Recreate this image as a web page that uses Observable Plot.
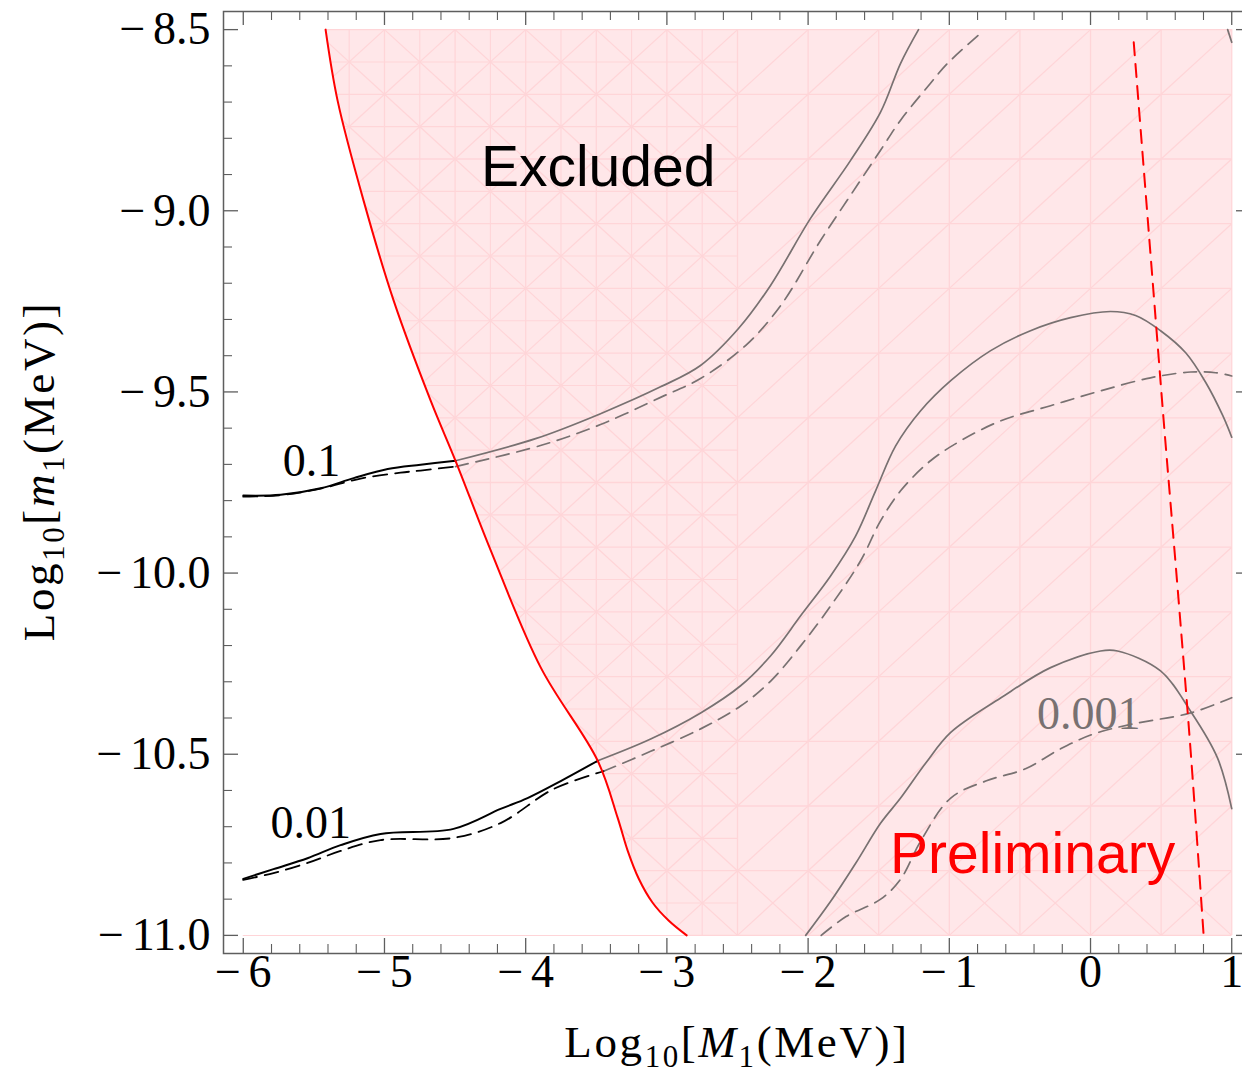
<!DOCTYPE html>
<html><head><meta charset="utf-8">
<script src="https://cdn.jsdelivr.net/npm/d3@7"></script>
<script src="https://cdn.jsdelivr.net/npm/@observablehq/plot@0.6"></script>
<style>
html,body{margin:0;padding:0;background:#fff;overflow:hidden;}
#chart svg{display:block;}
</style></head>
<body><div id="chart"></div>
<script>
// ---------- data (x = Log10[M1(MeV)], y = Log10[m1(MeV)]) ----------
const redBoundary = [[-5.417,-8.5],[-5.332,-8.696],[-5.148,-8.972],[-4.935,-9.248],[-4.673,-9.524],[-4.497,-9.690],[-4.247,-9.938],[-3.893,-10.261],[-3.490,-10.518],[-3.349,-10.675],[-3.278,-10.766],[-3.200,-10.843],[-3.101,-10.910],[-2.988,-10.959],[-2.860,-11.0]];
const redDashed = [[0.306,-8.535],[0.448,-9.234],[0.518,-9.579],[0.624,-10.076],[0.709,-10.491],[0.801,-11.0]];

const c01SolidIn  = [[-6,-9.786],[-5.735,-9.784],[-5.452,-9.766],[-5.218,-9.738],[-4.977,-9.713],[-4.744,-9.701],[-4.497,-9.690]];
const c01DashIn   = [[-6,-9.789],[-5.735,-9.785],[-5.452,-9.767],[-5.169,-9.739],[-4.886,-9.723],[-4.744,-9.717],[-4.497,-9.706]];
const c01SolidOut = [[-4.497,-9.690],[-3.930,-9.629],[-3.470,-9.560],[-3.045,-9.486],[-2.762,-9.427],[-2.493,-9.325],[-2.266,-9.206],[-1.983,-9.021],[-1.699,-8.861],[-1.487,-8.728],[-1.345,-8.593],[-1.218,-8.5]];
const c01DashOut  = [[-4.497,-9.706],[-3.895,-9.648],[-3.470,-9.590],[-3.045,-9.515],[-2.762,-9.463],[-2.443,-9.372],[-2.195,-9.262],[-1.912,-9.082],[-1.699,-8.957],[-1.487,-8.833],[-1.345,-8.750],[-1.133,-8.648],[-1.012,-8.593],[-0.779,-8.510]];

const c001SolidIn  = [[-6,-10.844],[-5.786,-10.817],[-5.545,-10.787],[-5.311,-10.751],[-5.028,-10.720],[-4.511,-10.706],[-4.178,-10.651],[-3.987,-10.621],[-3.752,-10.574],[-3.490,-10.518]];
const c001DashIn   = [[-6,-10.847],[-5.786,-10.828],[-5.545,-10.800],[-5.311,-10.767],[-5.028,-10.737],[-4.511,-10.731],[-4.178,-10.690],[-3.803,-10.596],[-3.449,-10.547]];
const c001SolidOut = [[-3.490,-10.518],[-3.115,-10.458],[-2.761,-10.386],[-2.478,-10.311],[-2.265,-10.228],[-2.053,-10.118],[-1.841,-10.008],[-1.664,-9.898],[-1.522,-9.773],[-1.380,-9.649],[-1.203,-9.552],[-0.990,-9.469],[-0.707,-9.386],[-0.425,-9.331],[-0.141,-9.295],[0.142,-9.278],[0.319,-9.289],[0.496,-9.331],[0.674,-9.392],[0.816,-9.474],[0.936,-9.565],[1.0,-9.625]];
const c001DashOut  = [[-3.449,-10.547],[-3.115,-10.492],[-2.761,-10.430],[-2.478,-10.367],[-2.265,-10.298],[-2.053,-10.201],[-1.841,-10.091],[-1.628,-9.966],[-1.487,-9.856],[-1.345,-9.773],[-1.133,-9.690],[-0.920,-9.635],[-0.637,-9.580],[-0.283,-9.538],[0.071,-9.497],[0.425,-9.461],[0.709,-9.445],[0.886,-9.447],[1.0,-9.456]];

const c0001Solid = [[-2.017,-11.0],[-1.840,-10.906],[-1.663,-10.801],[-1.486,-10.690],[-1.345,-10.621],[-1.168,-10.525],[-0.990,-10.440],[-0.637,-10.345],[-0.283,-10.261],[0.071,-10.215],[0.191,-10.215],[0.496,-10.270],[0.708,-10.381],[0.899,-10.510],[1.0,-10.650]];
const c0001Dash  = [[-1.907,-11.0],[-1.731,-10.948],[-1.486,-10.900],[-1.345,-10.845],[-1.203,-10.740],[-0.990,-10.621],[-0.742,-10.574],[-0.460,-10.540],[-0.212,-10.485],[0.022,-10.444],[0.305,-10.416],[0.709,-10.386],[1.0,-10.344]];
const cornerSolid = [[0.971,-8.5],[1.0,-8.535]];

const levelLabels = [
  {text: "0.1",   x: -5.516, y: -9.692, inside: false},
  {text: "0.01",  x: -5.523, y: -10.690, inside: false},
  {text: "0.001", x: -0.013, y: -10.389, inside: true}
];
const regionLabels = [
  {text: "Excluded",    x: -3.487, y: -8.882, red: false},
  {text: "Preliminary", x: -0.410, y: -10.778, red: true}
];

const xTicks = [-6,-5,-4,-3,-2,-1,0,1];
const xTickLabels = ["−6","−5","−4","−3","−2","−1","0","1"];
const yTicks = [-8.5,-9.0,-9.5,-10.0,-10.5,-11.0];
const yTickLabels = ["−8.5","−9.0","−9.5","−10.0","−10.5","−11.0"];
const xMinor = d3.range(-6, 1.0001, 0.2).map(v => +v.toFixed(2)).filter(v => !xTicks.includes(v));
const yMinor = d3.range(-11, -8.4999, 0.1).map(v => +v.toFixed(2)).filter(v => !yTicks.includes(v));

// ---------- decorative region mesh (Mathematica RegionPlot triangulation look) ----------
const meshX = d3.range(0, 15).map(i => -6 + i * 0.5);
const meshY = d3.range(0, 15).map(i => -11 + i * 2.5 / 14);
const meshDiag = [];
for (let i = 0; i < meshX.length - 1; i++) for (let j = 0; j < meshY.length - 1; j++) {
  meshDiag.push({x1: meshX[i], y1: meshY[j], x2: meshX[i+1], y2: meshY[j+1]});
  if (meshX[i] < -2.5 || j === 0) meshDiag.push({x1: meshX[i], y1: meshY[j+1], x2: meshX[i+1], y2: meshY[j]});
}
const fineX = meshX.filter(v => v < -2.5).map(v => v + 0.25);
const fineY = meshY.slice(0, -1).map(v => v + 2.5 / 28);

// ---------- layout ----------
const W = 1260, H = 1075, ML = 223, MR = 9, MT = 11, MB = 122;
const FW = W - ML - MR, FH = H - MT - MB;
const PINK = "#ffe7e9", MESH = "#ffd5d8", GRAY = "#787171", FRAME = "#5e5e5e";
const SERIF = "Liberation Serif, Times New Roman, serif";
const SANS = "Liberation Sans, Arial, sans-serif";
const X = d => d[0], Y = d => d[1];
const fmt = s => s.replace("−", "−\u2006");

const chart = Plot.plot({
  width: W, height: H,
  marginLeft: ML, marginRight: MR, marginTop: MT, marginBottom: MB,
  style: {maxWidth: "none", background: "white", overflow: "visible"},
  x: {domain: [-6.14, 1.14], axis: null},
  y: {domain: [-11.05, -8.45], axis: null},
  marks: [
    // excluded region fill
    Plot.areaX(redBoundary, {x1: X, x2: 1, y: Y, fill: PINK, curve: "catmull-rom"}),
    // mesh
    Plot.ruleX(meshX, {x: d => d, y1: -11, y2: -8.5, stroke: MESH, strokeWidth: 1.3}),
    Plot.ruleY(meshY, {y: d => d, x1: -6, x2: 1, stroke: MESH, strokeWidth: 1.3}),
    Plot.ruleX(fineX, {x: d => d, y1: -11, y2: -8.5, stroke: MESH, strokeWidth: 1.1}),
    Plot.ruleY(fineY, {y: d => d, x1: -6, x2: -2.5, stroke: MESH, strokeWidth: 1.1}),
    Plot.link(meshDiag, {x1: "x1", y1: "y1", x2: "x2", y2: "y2", stroke: MESH, strokeWidth: 1.2}),
    // white cover for the allowed region
    Plot.areaX(redBoundary, {x1: -6.12, x2: X, y: Y, fill: "white", curve: "catmull-rom"}),

    // contours inside the excluded region (gray)
    Plot.line(c01SolidOut, {x: X, y: Y, stroke: GRAY, strokeWidth: 1.7, curve: "catmull-rom"}),
    Plot.line(c01DashOut, {x: X, y: Y, stroke: GRAY, strokeWidth: 1.7, strokeDasharray: "13,8", curve: "catmull-rom"}),
    Plot.line(c001SolidOut, {x: X, y: Y, stroke: GRAY, strokeWidth: 1.7, curve: "catmull-rom"}),
    Plot.line(c001DashOut, {x: X, y: Y, stroke: GRAY, strokeWidth: 1.7, strokeDasharray: "13,8", curve: "catmull-rom"}),
    Plot.line(c0001Solid, {x: X, y: Y, stroke: GRAY, strokeWidth: 1.7, curve: "catmull-rom"}),
    Plot.line(c0001Dash, {x: X, y: Y, stroke: GRAY, strokeWidth: 1.7, strokeDasharray: "13,8", curve: "catmull-rom"}),
    Plot.line(cornerSolid, {x: X, y: Y, stroke: GRAY, strokeWidth: 1.7}),
    // contours in the allowed region (black)
    Plot.line(c01SolidIn, {x: X, y: Y, stroke: "black", strokeWidth: 2, curve: "catmull-rom"}),
    Plot.line(c01DashIn, {x: X, y: Y, stroke: "black", strokeWidth: 1.8, strokeDasharray: "14,8", curve: "catmull-rom"}),
    Plot.line(c001SolidIn, {x: X, y: Y, stroke: "black", strokeWidth: 2, curve: "catmull-rom"}),
    Plot.line(c001DashIn, {x: X, y: Y, stroke: "black", strokeWidth: 1.8, strokeDasharray: "14,8", curve: "catmull-rom"}),

    // boundary lines
    Plot.line(redBoundary, {x: X, y: Y, stroke: "#ff0000", strokeWidth: 2, curve: "catmull-rom"}),
    Plot.line(redDashed, {x: X, y: Y, stroke: "#ff0000", strokeWidth: 2, strokeDasharray: "13,9", curve: "catmull-rom"}),

    // labels
    Plot.text(levelLabels, {x: "x", y: "y", text: "text", fill: d => d.inside ? GRAY : "black",
      fontSize: 46, fontFamily: SERIF, textAnchor: "middle", letterSpacing: 0.5}),
    Plot.text(regionLabels, {x: "x", y: "y", text: "text", fill: d => d.red ? "#ff0000" : "black",
      fontSize: 57, fontFamily: SANS, textAnchor: "middle"}),

    // frame and ticks (inward, Mathematica style)
    Plot.frame({stroke: FRAME, strokeWidth: 1.5}),
    Plot.ruleX(xTicks, {x: d => d, insetTop: FH - 15, stroke: FRAME, strokeWidth: 1.3}),
    Plot.ruleX(xMinor, {x: d => d, insetTop: FH - 9, stroke: FRAME, strokeWidth: 1.1}),
    Plot.ruleX(xTicks, {x: d => d, insetBottom: FH - 14, stroke: FRAME, strokeWidth: 1.3}),
    Plot.ruleX(xMinor, {x: d => d, insetBottom: FH - 9, stroke: FRAME, strokeWidth: 1.1}),
    Plot.ruleY(yTicks, {y: d => d, insetRight: FW - 15, stroke: FRAME, strokeWidth: 1.3}),
    Plot.ruleY(yMinor, {y: d => d, insetRight: FW - 9, stroke: FRAME, strokeWidth: 1.1}),
    Plot.ruleY(yTicks, {y: d => d, insetLeft: FW - 15, stroke: FRAME, strokeWidth: 1.3}),
    Plot.ruleY(yMinor, {y: d => d, insetLeft: FW - 9, stroke: FRAME, strokeWidth: 1.1}),
    // tick labels
    Plot.text(xTicks, {x: d => d, frameAnchor: "bottom", dy: 33, text: (d, i) => fmt(xTickLabels[i]),
      fontSize: 46, fontFamily: SERIF, fill: "black", textAnchor: "middle"}),
    Plot.text(yTicks, {y: d => d, frameAnchor: "left", dx: -13, text: (d, i) => fmt(yTickLabels[i]),
      fontSize: 46, fontFamily: SERIF, fill: "black", textAnchor: "end", letterSpacing: 1.5})
  ]
});
document.getElementById("chart").appendChild(chart);

// axis titles with sub/italic parts
const svg = d3.select(chart);
function richTitle(x, y, rotate, mathVar) {
  const t = svg.append("text")
    .attr("transform", `translate(${x},${y}) rotate(${rotate})`)
    .attr("text-anchor", "middle").attr("font-family", SERIF).attr("font-size", 45)
    .attr("fill", "black").attr("letter-spacing", 2.6);
  t.append("tspan").text("Log");
  t.append("tspan").attr("font-size", 31).attr("dy", 10).text("10");
  t.append("tspan").attr("dy", -10).text("[");
  t.append("tspan").attr("font-style", "italic").text(mathVar);
  t.append("tspan").attr("font-size", 31).attr("dy", 10).text("1");
  t.append("tspan").attr("dy", -10).text("(MeV)]");
}
richTitle(737, 1057, 0, "M");
richTitle(54, 471, -90, "m");
</script>
</body></html>
